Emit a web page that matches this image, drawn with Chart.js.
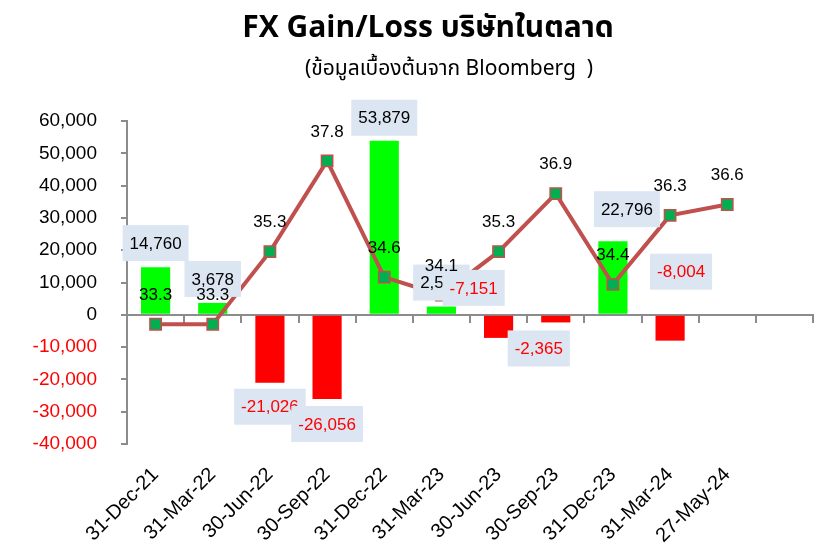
<!DOCTYPE html>
<html lang="th">

<head>
  <meta charset="UTF-8">
  <title>FX Gain/Loss</title>
  <script src="https://cdn.jsdelivr.net/npm/chart.js"></script>
  <style>
    html, body { margin: 0; padding: 0; background: #fff; }
  </style>
</head>

<body>
  <canvas id="grafico" width="823" height="551"></canvas>

<script>
  // quarter-end dates; the last slot on the axis stays empty
  const dates = ['31-Dec-21', '31-Mar-22', '30-Jun-22', '30-Sep-22', '31-Dec-22', '31-Mar-23',
    '30-Jun-23', '30-Sep-23', '31-Dec-23', '31-Mar-24', '27-May-24', ''];

  // FX gain/loss of listed companies (million baht)
  const fxGain = [14760, 3678, -21026, -26056, 53879, 2540, -7151, -2365, 22796, -8004, null];

  // USD/THB rate, plotted on the hidden right axis
  const usdThb = [33.3, 33.3, 35.3, 37.8, 34.6, 34.1, 35.3, 36.9, 34.4, 36.3, 36.6];

  // left axis ticks
  const yTicks = [-40000, -30000, -20000, -10000, 0, 10000, 20000, 30000, 40000, 50000, 60000];

  const FONT = '"Liberation Sans", Arial, sans-serif';
  const THAI_FONT = '"Noto Sans Thai", "Noto Sans", "Liberation Sans", sans-serif';
  const GREY = '#8C8C8C';
  const RED = '#FF0000';

  // manual nudges for the value boxes, so they don't sit on the line
  const boxShift = [[0, 0], [0, 0], [0, 0], [0, 1], [0, 1], [0, 0], [-25, -74], [-17, 2], [14, -8], [11, -93]];

  // title and source line
  const headings = {
    id: 'headings',
    beforeDraw(chart) {
      const ctx = chart.ctx;
      ctx.save();
      ctx.fillStyle = '#000';
      ctx.textAlign = 'center';
      ctx.textBaseline = 'alphabetic';
      ctx.font = 'bold 30px ' + THAI_FONT;
      ctx.fillText('FX Gain/Loss บริษัทในตลาด', 428, 37);
      ctx.font = '21px ' + THAI_FONT;
      ctx.fillText('(ข้อมูลเบื้องต้นจาก Bloomberg  )', 449, 75);
      ctx.restore();
    }
  };

  // value boxes on the bars, plain numbers above the rate markers
  const valueLabels = {
    id: 'valueLabels',
    afterDatasetsDraw(chart) {
      const ctx = chart.ctx;
      const bars = chart.getDatasetMeta(0).data;
      const points = chart.getDatasetMeta(1).data;
      ctx.save();
      ctx.font = '17px ' + FONT;
      ctx.textAlign = 'center';
      ctx.textBaseline = 'middle';

      bars.forEach((bar, i) => {
        const v = fxGain[i];
        if (v === null || v === undefined) return;
        const shift = boxShift[i] || [0, 0];
        const cx = bar.x + shift[0];
        const cy = (v >= 0 ? bar.y - 24 : bar.y + 24) + shift[1];
        const text = v.toLocaleString('en-US');
        const w = ctx.measureText(text).width + 14;
        ctx.fillStyle = '#DCE6F2';
        ctx.fillRect(cx - w / 2, cy - 18, w, 36);
        ctx.fillStyle = v < 0 ? RED : '#000';
        ctx.fillText(text, cx, cy + 1);
      });

      ctx.fillStyle = '#000';
      points.forEach((pt, i) => {
        ctx.fillText(usdThb[i].toFixed(1), pt.x, pt.y - 29);
      });
      ctx.restore();
    }
  };

  new Chart(document.getElementById('grafico'), {
    data: {
      labels: dates,
      datasets: [{
        type: 'bar',
        data: fxGain,
        backgroundColor: (c) => c.raw < 0 ? RED : '#00FF00',
        categoryPercentage: 1,
        barPercentage: 0.51,
        yAxisID: 'y',
        order: 1
      }, {
        type: 'line',
        data: usdThb,
        yAxisID: 'y2',
        borderColor: '#C0504D',
        borderWidth: 4,
        tension: 0,
        pointStyle: 'rect',
        pointRadius: 8,
        pointBackgroundColor: '#00B050',
        pointBorderColor: '#C0504D',
        pointBorderWidth: 1.5,
        order: 0
      }]
    },
    options: {
      responsive: false,
      animation: false,
      devicePixelRatio: 1,
      layout: { padding: { top: 121, right: 10, left: 0, bottom: 0 } },
      plugins: {
        legend: { display: false },
        tooltip: { enabled: false }
      },
      scales: {
        // date labels along the bottom
        x: {
          offset: true,
          border: { display: false },
          grid: { display: false, drawTicks: false },
          ticks: {
            autoSkip: false,
            minRotation: 45,
            maxRotation: 45,
            padding: 19,
            color: '#000',
            font: { family: FONT, size: 20 }
          },
          afterFit: (s) => { s.height = 107; }
        },
        // axis line with tick marks drawn through zero
        xZero: {
          type: 'category',
          axis: 'x',
          position: { y: 0 },
          offset: true,
          border: { color: GREY, width: 2 },
          grid: { offset: true, drawOnChartArea: false, tickLength: 7, color: GREY, lineWidth: 2 },
          ticks: { display: false }
        },
        y: {
          min: yTicks[0],
          max: yTicks[yTicks.length - 1],
          border: { color: GREY, width: 2 },
          grid: { drawOnChartArea: false, tickLength: 6, color: GREY, lineWidth: 2 },
          ticks: {
            stepSize: yTicks[1] - yTicks[0],
            padding: 24,
            font: { family: FONT, size: 19 },
            color: (c) => c.tick.value < 0 ? RED : '#000',
            callback: (v) => v.toLocaleString('en-US')
          },
          afterFit: (s) => { s.width = 127; }
        },
        y2: {
          display: false,
          min: 30,
          max: 38.9
        }
      }
    },
    plugins: [headings, valueLabels]
  });
</script>
</body>

</html>
